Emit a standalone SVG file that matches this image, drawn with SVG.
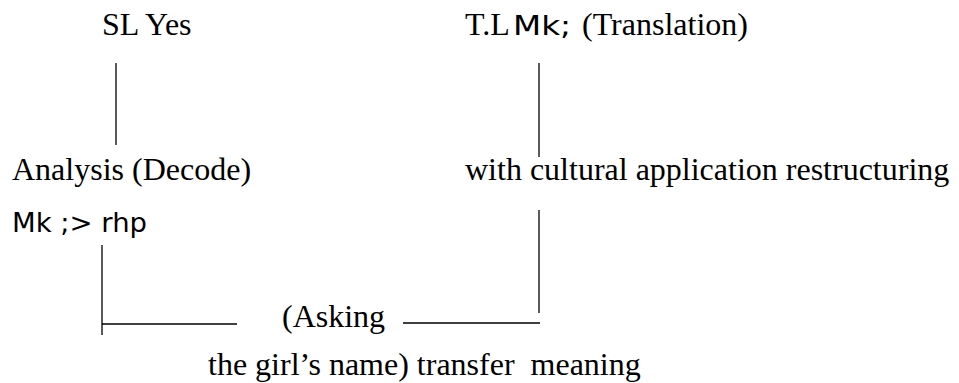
<svg xmlns="http://www.w3.org/2000/svg" width="959" height="383" viewBox="0 0 959 383">
<style>
.s{font-family:"Liberation Serif","Times New Roman",serif;font-size:32px;fill:#000;white-space:pre}
.t{font-family:"DejaVu Sans","Verdana",sans-serif;font-size:27px;fill:#000}
.c{stroke:#000;stroke-width:1.3;fill:none}
</style>
<rect width="959" height="383" fill="#fff"/>
<g id="sl"><text class="s" x="102" y="35">SL Yes</text></g>
<g id="tl"><text class="s" x="465" y="35">T.L</text><text class="t" x="513" y="35" textLength="58" lengthAdjust="spacingAndGlyphs">Mk;</text><text class="s" x="582" y="35">(Translation)</text></g>
<g id="analysis"><text class="s" x="12" y="180">Analysis (Decode)</text></g>
<g id="cultural"><text class="s" x="465" y="180">with cultural application restructuring</text></g>
<g id="tamil"><text class="t" x="12" y="232" textLength="135" lengthAdjust="spacingAndGlyphs">Mk ;&gt; rhp</text></g>
<g id="asking"><text class="s" x="282" y="327">(Asking</text></g>
<g id="meaning"><text class="s" x="208" y="375">the girl’s name) transfer  meaning</text></g>
<g id="connectors">
<line class="c" x1="116" y1="63" x2="116" y2="145"/>
<line class="c" x1="539" y1="63" x2="539" y2="157"/>
<line class="c" x1="539" y1="210" x2="539" y2="313"/>
<line class="c" x1="102" y1="245" x2="102" y2="335"/>
<line class="c" x1="102" y1="324" x2="237" y2="324"/>
<line class="c" x1="403" y1="323" x2="540" y2="323"/>
</g>
</svg>
